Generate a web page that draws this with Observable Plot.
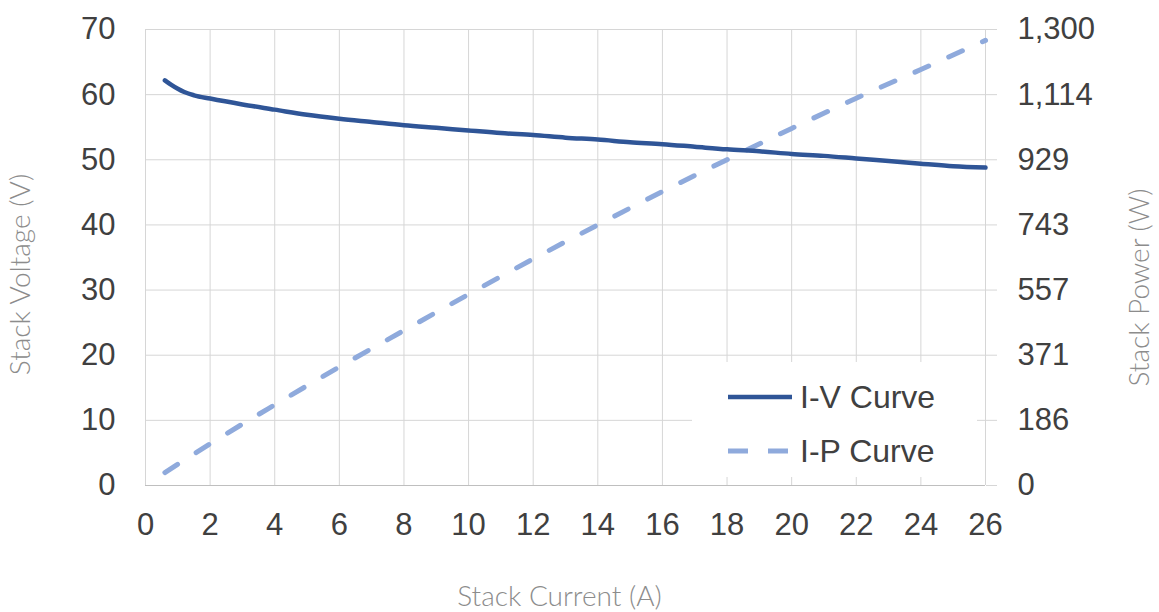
<!DOCTYPE html>
<html>
<head>
<meta charset="utf-8">
<script src="https://cdn.jsdelivr.net/npm/d3@7"></script>
<script src="https://cdn.jsdelivr.net/npm/@observablehq/plot@0.6"></script>
<style>
  html, body { margin: 0; padding: 0; background: #fff; }
  #wrap { position: relative; width: 1159px; height: 612px; }
  #legend { position: absolute; left: 692px; top: 362px; width: 285px; height: 115px; background: #fff; font-family: "Liberation Sans", Arial, sans-serif; font-size: 32px; color: #404040; }
  .item { position: absolute; left: 36px; height: 40px; display: flex; align-items: center; }
  .item svg { margin-right: 8px; }
</style>
</head>
<body>
<div id="wrap"></div>
<script>
// Stack current (A) and stack voltage (V) for the I-V curve
const ivCurrent = [0.6, 0.8, 1.0, 1.2, 1.5, 2, 3, 4, 5, 6, 7, 8, 9, 10, 11, 12, 13, 14, 15, 16, 17, 18, 19, 20, 21, 22, 23, 24, 25, 26];
const ivVoltage = [62.2, 61.5, 60.9, 60.4, 59.9, 59.4, 58.5, 57.7, 56.9, 56.3, 55.8, 55.3, 54.9, 54.5, 54.1, 53.8, 53.4, 53.1, 52.7, 52.4, 52.0, 51.6, 51.3, 50.9, 50.6, 50.2, 49.8, 49.4, 49.0, 48.8];
// Stack current (A) and stack power (W) for the I-P curve
const ipCurrent = [0.6, 2, 4, 6, 8, 10, 12, 14, 16, 18, 20, 22, 24, 26];
const ipPower = [37, 119, 230, 338, 442, 545, 646, 743, 838, 929, 1018, 1104, 1186, 1269];
// Axis ticks
const xTicks = [0, 2, 4, 6, 8, 10, 12, 14, 16, 18, 20, 22, 24, 26];
const yTicks = [0, 10, 20, 30, 40, 50, 60, 70];
const powerTickLabels = ["0", "186", "371", "557", "743", "929", "1,114", "1,300"];
const powerMax = 1300;
const voltageMax = 70;
// Series names
const seriesNames = ["I-V Curve", "I-P Curve"];
const colors = ["#2F5597", "#8FAADC"];

const iv = ivCurrent.map((c, i) => ({current: c, voltage: ivVoltage[i]}));
const ip = ipCurrent.map((c, i) => ({current: c, power: ipPower[i]}));

const tickFont = {fill: "#404040"};
const titleStyle = {fontFamily: "Lato, 'Open Sans', sans-serif", fontWeight: 300, fontSize: 28, fill: "#8c8c8c", textAnchor: "middle", lineAnchor: "middle"};

const chart = Plot.plot({
  width: 1159,
  height: 612,
  marginLeft: 145,
  marginRight: 174,
  marginTop: 29,
  marginBottom: 127,
  style: {fontFamily: "'Liberation Sans', Arial, sans-serif", fontSize: "31px", color: "#404040", background: "#fff", overflow: "visible"},
  x: {domain: [0, 26]},
  y: {domain: [0, voltageMax]},
  marks: [
    Plot.gridX(xTicks, {stroke: "#d6d6d6", strokeOpacity: 1}),
    Plot.gridY(yTicks, {stroke: "#d6d6d6", strokeOpacity: 1}),
    Plot.ruleY([0], {stroke: "#bfbfbf"}),
    Plot.axisX({ticks: xTicks, tickSize: 0, tickPadding: 27, label: null, ...tickFont}),
    Plot.axisY({anchor: "left", ticks: yTicks, tickSize: 0, tickPadding: 30, label: null, ...tickFont}),
    Plot.axisY({anchor: "right", ticks: yTicks, tickSize: 11, tickPadding: 21, label: null, stroke: "#d6d6d6",
      tickFormat: (d) => powerTickLabels[yTicks.indexOf(d)], ...tickFont}),
    Plot.line(ip, {x: "current", y: d => d.power * voltageMax / powerMax, stroke: colors[1], strokeWidth: 5,
      strokeDasharray: "15,22", strokeLinecap: "round", curve: "monotone-x"}),
    Plot.line(iv, {x: "current", y: "voltage", stroke: colors[0], strokeWidth: 4.5, curve: "monotone-x"}),
    Plot.text(["Stack Current (A)"], {frameAnchor: "bottom", dy: 112, dx: -6, ...titleStyle}),
    Plot.text(["Stack Voltage (V)"], {frameAnchor: "left", dx: -124, dy: 17, rotate: -90, ...titleStyle}),
    Plot.text(["Stack Power (W)"], {frameAnchor: "right", dx: 155, dy: 30, rotate: -90, ...titleStyle})
  ]
});

const wrap = document.getElementById("wrap");
wrap.appendChild(chart);

const legend = document.createElement("div");
legend.id = "legend";
legend.innerHTML = `
  <div class="item" style="top:15px">
    <svg width="64" height="10"><line x1="0" y1="5" x2="64" y2="5" stroke="${colors[0]}" stroke-width="4.5"/></svg>
    <span>${seriesNames[0]}</span>
  </div>
  <div class="item" style="top:69px">
    <svg width="64" height="10"><line x1="0" y1="5" x2="60" y2="5" stroke="${colors[1]}" stroke-width="5" stroke-dasharray="20,20"/></svg>
    <span>${seriesNames[1]}</span>
  </div>`;
wrap.appendChild(legend);
</script>
</body>
</html>
